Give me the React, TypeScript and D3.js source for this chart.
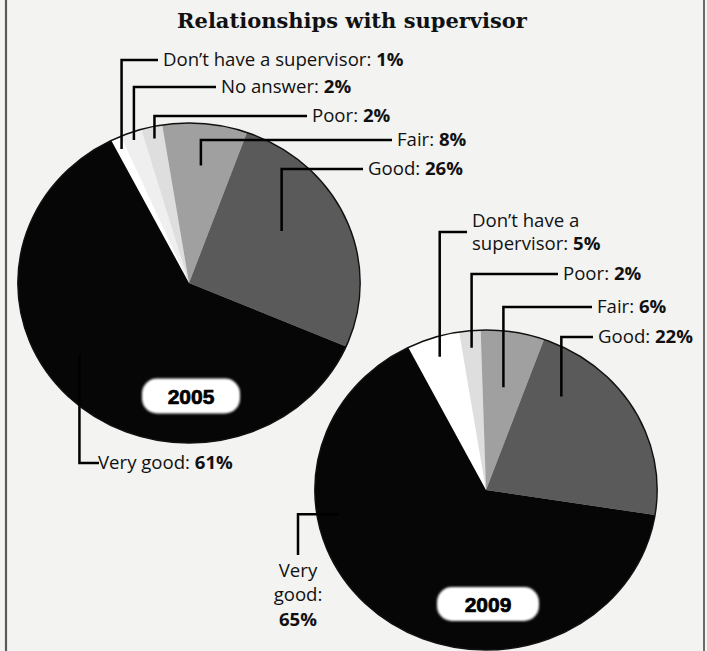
import React from "react";
import * as d3 from "d3";

// ---------- data ----------
const chartTitle = "Relationships with supervisor";
const years = ["2005", "2009"];
const categories2005 = ["Don’t have a supervisor", "No answer", "Poor", "Fair", "Good", "Very good"];
const values2005 = [1, 2, 2, 8, 26, 61];
const categories2009 = ["Don’t have a supervisor", "Poor", "Fair", "Good", "Very good"];
const values2009 = [5, 2, 6, 22, 65];

// ---------- styles / layout ----------
const W = 707;
const H = 651;
const BG = "#f3f3f1";
const colorOf: Record<string, string> = {
  "Don’t have a supervisor": "#ffffff",
  "No answer": "#efefef",
  "Poor": "#dedede",
  "Fair": "#a0a0a0",
  "Good": "#5a5a5a",
  "Very good": "#060606",
};
const R = 160;
const SX = 1.07; // slight horizontal stretch seen in the reference
const START_DEG = -27;
const LABEL_FONT = "'Open Sans', 'Noto Sans', sans-serif";
const LABEL_SIZE = 18.6;

type LabelLayout = {
  r: number;
  angle?: number;
  kind?: "right" | "down" | "leftDown";
  lineY?: number;
  textX?: number;
  wrap?: number[];
  lineX?: number;
  lineEndY?: number;
  textYs?: number[];
};

const pies = [
  {
    year: years[0],
    categories: categories2005,
    values: values2005,
    cx: 189,
    cy: 283,
    box: { x: 191, y: 396, w: 98, h: 35 },
    labels: [
      { r: 148, lineY: 60, textX: 163 },
      { r: 152, lineY: 87, textX: 221 },
      { r: 148, lineY: 116, textX: 312 },
      { r: 118, lineY: 140, textX: 397 },
      { r: 101, angle: 59, lineY: 169, textX: 368 },
      { r: 125, angle: 235, kind: "down", lineY: 463, textX: 98 },
    ] as LabelLayout[],
  },
  {
    year: years[1],
    categories: categories2009,
    values: values2009,
    cx: 486,
    cy: 490,
    box: { x: 488, y: 604, w: 102, h: 34 },
    labels: [
      { r: 140, lineY: 232, textX: 472, wrap: [3, 1] },
      { r: 143, lineY: 274, textX: 563 },
      { r: 104, lineY: 307, textX: 597 },
      { r: 117, angle: 37, lineY: 337, textX: 598 },
      { r: 140, angle: 260, kind: "leftDown", lineX: 298, lineEndY: 555, textYs: [571, 595, 620] },
    ] as LabelLayout[],
  },
];

const toRad = (d: number) => (d * Math.PI) / 180;

function Pie({ p }: { p: (typeof pies)[number] }) {
  const data = p.categories.map((c, i) => ({ category: c, value: p.values[i] }));
  const pieGen = d3
    .pie<{ category: string; value: number }>()
    .value((d) => d.value)
    .sort(null)
    .startAngle(toRad(START_DEG))
    .endAngle(toRad(START_DEG) + 2 * Math.PI);
  const arcs = pieGen(data);
  const arcGen = d3
    .arc<d3.PieArcDatum<{ category: string; value: number }>>()
    .innerRadius(0)
    .outerRadius(R);

  const point = (angDeg: number, r: number) => [
    p.cx + Math.sin(toRad(angDeg)) * r * SX,
    p.cy - Math.cos(toRad(angDeg)) * r,
  ];

  return (
    <g>
      <g transform={`translate(${p.cx},${p.cy}) scale(${SX},1)`}>
        {arcs.map((a, i) => (
          <path key={i} d={arcGen(a) || ""} fill={colorOf[a.data.category]} />
        ))}
        <ellipse rx={R} ry={R} fill="none" stroke="#111" strokeWidth={1.4} vectorEffect="non-scaling-stroke" />
      </g>
      {arcs.map((a, i) => {
        const L = p.labels[i];
        const mid = ((a.startAngle + a.endAngle) / 2) * (180 / Math.PI);
        const ang = L.angle !== undefined ? L.angle : mid;
        const [ax, ay] = point(ang, L.r);
        const cat = a.data.category;
        const val = `${a.data.value}%`;
        const kind = L.kind || "right";
        let path = "";
        let text: React.ReactNode = null;
        if (kind === "right") {
          const endX = (L.textX as number) - 5;
          path = `M${ax},${ay}V${L.lineY}H${endX}`;
          if (L.wrap) {
            const words = cat.split(" ");
            const lines: string[] = [];
            let k = 0;
            L.wrap.forEach((n) => {
              lines.push(words.slice(k, k + n).join(" "));
              k += n;
            });
            const lh = 23;
            const y0 = (L.lineY as number) - ((lines.length - 1) * lh) / 2 + 6;
            text = (
              <text fontFamily={LABEL_FONT} fontSize={LABEL_SIZE} fill="#111">
                {lines.map((ln, j) => (
                  <tspan key={j} x={L.textX} y={y0 + j * lh}>
                    {j === lines.length - 1 ? `${ln}: ` : ln}
                    {j === lines.length - 1 && <tspan fontWeight={700}>{val}</tspan>}
                  </tspan>
                ))}
              </text>
            );
          } else {
            text = (
              <text x={L.textX} y={(L.lineY as number) + 6} fontFamily={LABEL_FONT} fontSize={LABEL_SIZE} fill="#111">
                {`${cat}: `}
                <tspan fontWeight={700}>{val}</tspan>
              </text>
            );
          }
        } else if (kind === "down") {
          path = `M${ax},${ay}V${L.lineY}H${(L.textX as number) + 1}`;
          text = (
            <text x={L.textX} y={(L.lineY as number) + 6} fontFamily={LABEL_FONT} fontSize={LABEL_SIZE} fill="#111">
              {`${cat}: `}
              <tspan fontWeight={700}>{val}</tspan>
            </text>
          );
        } else {
          path = `M${ax},${ay}H${L.lineX}V${L.lineEndY}`;
          const words = cat.split(" ");
          const ys = L.textYs as number[];
          text = (
            <text fontFamily={LABEL_FONT} fontSize={LABEL_SIZE} fill="#111" textAnchor="middle">
              <tspan x={L.lineX} y={ys[0] + 6}>{words[0]}</tspan>
              <tspan x={L.lineX} y={ys[1] + 6}>{`${words.slice(1).join(" ")}:`}</tspan>
              <tspan x={L.lineX} y={ys[2] + 6} fontWeight={700}>{val}</tspan>
            </text>
          );
        }
        return (
          <g key={`l${i}`}>
            <path d={path} fill="none" stroke="#000" strokeWidth={2.5} />
            {text}
          </g>
        );
      })}
      <g filter="url(#soft)">
        <rect
          x={p.box.x - p.box.w / 2}
          y={p.box.y - p.box.h / 2}
          width={p.box.w}
          height={p.box.h}
          rx={15}
          ry={15}
          fill="#ffffff"
        />
      </g>
      <text
        x={p.box.x}
        y={p.box.y + 7.5}
        textAnchor="middle"
        fontFamily="'Liberation Sans', Arial, sans-serif"
        fontWeight={700}
        fontSize={21}
        fill="#000"
        stroke="#000"
        strokeWidth={0.7}
      >
        {p.year}
      </text>
    </g>
  );
}

export default function App() {
  return (
    <svg
      width={W}
      height={H}
      viewBox={`0 0 ${W} ${H}`}
      style={{ position: "absolute", left: 0, top: 0, display: "block" }}
    >
      <defs>
        <filter id="soft" x="-20%" y="-40%" width="140%" height="180%">
          <feGaussianBlur stdDeviation={0.9} />
        </filter>
      </defs>
      <rect x={0} y={0} width={W} height={H} fill={BG} />
      <line x1={6} y1={0} x2={6} y2={H} stroke="#5a5a5a" strokeWidth={2.2} />
      <line x1={704} y1={0} x2={704} y2={H} stroke="#6a6a6a" strokeWidth={2} />
      <text
        x={352}
        y={28}
        textAnchor="middle"
        fontFamily="'DejaVu Serif', serif"
        fontWeight={700}
        fontSize={21}
        fill="#111"
      >
        {chartTitle}
      </text>
      {pies.map((p) => (
        <Pie key={p.year} p={p} />
      ))}
    </svg>
  );
}
